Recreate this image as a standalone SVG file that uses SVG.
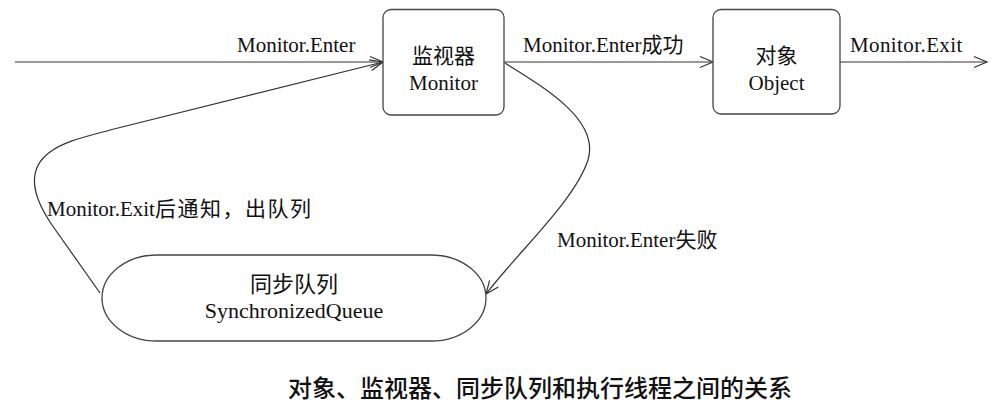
<svg xmlns="http://www.w3.org/2000/svg" width="995" height="406" viewBox="0 0 995 406">
<style>
.box{fill:#fff;stroke:#444;stroke-width:1.3}
.ln{fill:none;stroke:#333;stroke-width:1.2}
.t{font-family:"Liberation Serif","Noto Sans CJK SC",serif;font-size:21px;fill:#111}
.c{text-anchor:middle}
.cap{font-family:"Noto Sans CJK SC","Noto Sans",sans-serif;font-size:24px;font-weight:500;fill:#111;text-anchor:middle}
</style>
<defs>
<marker id="arr" markerUnits="userSpaceOnUse" markerWidth="16" markerHeight="14" viewBox="0 0 16 14" refX="14" refY="7" orient="auto">
<path d="M1,1.5 L14,7 L1,12.5" fill="none" stroke="#333" stroke-width="1.2"/>
</marker>
</defs>
<rect width="995" height="406" fill="#fff"/>
<g id="connectors">
<path class="ln" d="M15,62 H383" marker-end="url(#arr)"/>
<path class="ln" d="M504,62 H713" marker-end="url(#arr)"/>
<path class="ln" d="M840,62 H987" marker-end="url(#arr)"/>
<path class="ln" d="M100,293 L52,225 C30,193 28,168 50,152 C65,141 85,137 110,130 L383,62" marker-end="url(#arr)"/>
<path class="ln" d="M505,63 C545,88 600,120 588,160 C575,200 520,250 486,294" marker-end="url(#arr)"/>
<text class="t" x="237" y="52">Monitor.Enter</text>
<text class="t" x="523" y="52">Monitor.Enter成功</text>
<text class="t" x="850" y="52" letter-spacing="0.4">Monitor.Exit</text>
<text class="t" x="47" y="216">Monitor.Exit<tspan letter-spacing="1.5">后通知，出队列</tspan></text>
<text class="t" x="557" y="247">Monitor.Enter失败</text>
</g>
<g id="monitor">
<rect class="box" x="383" y="9.5" width="121" height="105.5" rx="8"/>
<text class="t c" x="443.5" y="63">监视器</text>
<text class="t c" x="443.5" y="90">Monitor</text>
</g>
<g id="object">
<rect class="box" x="713" y="9.5" width="127" height="104.5" rx="8"/>
<text class="t c" x="776.5" y="63">对象</text>
<text class="t c" x="776.5" y="90">Object</text>
</g>
<g id="queue">
<path class="box" d="M157,255 H431 A55,43 0 0 1 431,341 H157 A55,43 0 0 1 157,255 Z"/>
<text class="t c" x="294" y="292" style="font-size:22px">同步队列</text>
<text class="t c" x="294" y="318" style="font-size:22px">SynchronizedQueue</text>
</g>
<text class="cap" x="540" y="397">对象、监视器、同步队列和执行线程之间的关系</text>
</svg>
